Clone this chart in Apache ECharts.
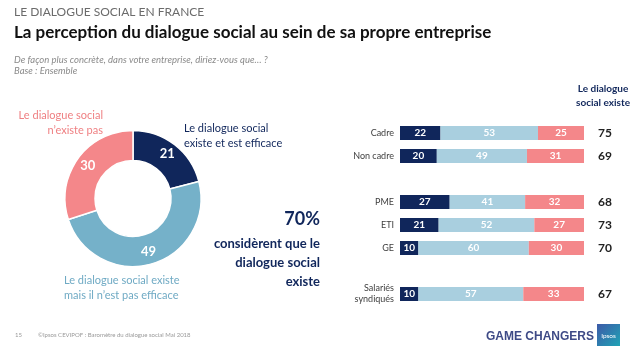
<!DOCTYPE html>
<html><head><meta charset="utf-8">
<script src="https://cdn.jsdelivr.net/npm/echarts@6/dist/echarts.min.js"></script>
<style>html,body{margin:0;padding:0;background:#fff}#c{width:638px;height:359px}</style>
</head><body><div id="c"></div>
<script>
var donutNames = ['Le dialogue social existe et est efficace', 'Le dialogue social existe mais il n\u2019est pas efficace', 'Le dialogue social n\u2019existe pas'];
var donutValues = [21, 49, 30];
var categories = ['Cadre', 'Non cadre', '', 'PME', 'ETI', 'GE', '', 'Salari\u00e9s\nsyndiqu\u00e9s'];
var efficace = [22, 20, null, 27, 21, 10, null, 10];
var pasEfficace = [53, 49, null, 41, 52, 60, null, 57];
var nExiste = [25, 31, null, 32, 27, 30, null, 33];
var existeTotals = ['75', '69', '', '68', '73', '70', '', '67'];

var NAVY = '#10265b', BLUE = '#75b1c9', LBLUE = '#a9cfdf', PINK = '#f4878a';
var FONT = 'Lato, "Open Sans", sans-serif';
var chart = echarts.init(document.getElementById('c'), null, {renderer: 'canvas'});

function barSeries(name, data, color) {
  return {
    type: 'bar', name: name, stack: 's', data: data, barWidth: 14,
    xAxisIndex: 0, yAxisIndex: 0,
    itemStyle: {color: color},
    label: {show: true, position: 'inside', color: '#fff', fontWeight: 'bold', fontSize: 10, fontFamily: FONT},
    animation: false
  };
}

chart.setOption({
  animation: false,
  textStyle: {fontFamily: FONT},
  grid: {left: 400, width: 184, top: 121.5, height: 184},
  xAxis: {type: 'value', min: 0, max: 100, show: false},
  yAxis: [
    {type: 'category', data: categories, inverse: true, axisLine: {show: false}, axisTick: {show: false},
     axisLabel: {color: '#404040', fontSize: 9, fontFamily: FONT, margin: 6, lineHeight: 11}},
    {type: 'category', data: existeTotals, inverse: true, position: 'right', axisLine: {show: false}, axisTick: {show: false},
     axisLabel: {color: '#222', fontSize: 12, fontWeight: 'bold', fontFamily: FONT, margin: 21, align: 'center'}}
  ],
  series: [
    {
      type: 'pie', center: [133, 198.5], radius: [38, 68], startAngle: 90, clockwise: true,
      data: donutValues.map(function (v, i) { return {name: donutNames[i], value: v, itemStyle: {color: [NAVY, BLUE, PINK][i]}}; }),
      itemStyle: {borderColor: '#fff', borderWidth: 1.5},
      label: {show: true, position: 'inside', formatter: '{c}', color: '#fff', fontSize: 13, fontWeight: 'bold', fontFamily: FONT},
      labelLine: {show: false}, emphasis: {disabled: true}, animation: false
    },
    barSeries('efficace', efficace, NAVY),
    barSeries('pas efficace', pasEfficace, LBLUE),
    barSeries('n\u2019existe pas', nExiste, PINK)
  ],
  graphic: [
    {type: 'text', left: 14, top: 6, style: {text: 'LE DIALOGUE SOCIAL EN FRANCE', fill: '#6b6b6b', font: '12px ' + FONT}},
    {type: 'text', left: 14, top: 24, style: {text: 'La perception du dialogue social au sein de sa propre entreprise', fill: '#111', font: 'bold 17px ' + FONT}},
    {type: 'text', left: 14, top: 54, style: {text: 'De fa\u00e7on plus concr\u00e8te, dans votre entreprise, diriez-vous que\u2026 ?\nBase : Ensemble', fill: '#8a8a8a', font: 'italic 9.5px ' + FONT, lineHeight: 11}},
    {type: 'text', left: 184, top: 121, style: {text: 'Le dialogue social\nexiste et est efficace', fill: NAVY, font: '11px ' + FONT, lineHeight: 15}},
    {type: 'text', x: 103, y: 108, style: {text: 'Le dialogue social\nn\u2019existe pas', fill: '#ef8083', font: '11px ' + FONT, lineHeight: 15, align: 'right'}},
    {type: 'text', left: 64, top: 273, style: {text: 'Le dialogue social existe\nmais il n\u2019est pas efficace', fill: '#6faac4', font: '11px ' + FONT, lineHeight: 15}},
    {type: 'text', x: 320, y: 210, style: {text: '70%', fill: NAVY, font: 'bold 18px ' + FONT, align: 'right'}},
    {type: 'text', x: 320, y: 234, style: {text: 'consid\u00e8rent que le\ndialogue social\nexiste', fill: NAVY, font: 'bold 13px ' + FONT, lineHeight: 19, align: 'right'}},
    {type: 'text', x: 603, y: 82, style: {text: 'Le dialogue\nsocial existe', fill: NAVY, font: 'bold 10px ' + FONT, lineHeight: 14, align: 'center'}},
    {type: 'text', left: 15, top: 332, style: {text: '15', fill: '#999', font: '6px ' + FONT}},
    {type: 'text', left: 38, top: 332, style: {text: '\u00a9Ipsos CEVIPOF : Barom\u00e8tre du dialogue social Mai 2018', fill: '#999', font: '6px ' + FONT}},
    {type: 'text', left: 486, top: 331, style: {text: 'GAME CHANGERS', fill: '#3e4a86', font: 'bold 12px "Liberation Sans", Arial, sans-serif'}},
    {type: 'rect', shape: {x: 597, y: 324, width: 23, height: 22}, style: {fill: new echarts.graphic.LinearGradient(0, 0, 1, 1, [{offset: 0, color: '#3d5aa8'}, {offset: 1, color: '#1fa3b5'}])}},
    {type: 'text', x: 608.5, y: 336, style: {text: 'Ipsos', fill: '#fff', font: '6.5px ' + FONT, align: 'center', verticalAlign: 'middle'}}
  ]
});
</script></body></html>
